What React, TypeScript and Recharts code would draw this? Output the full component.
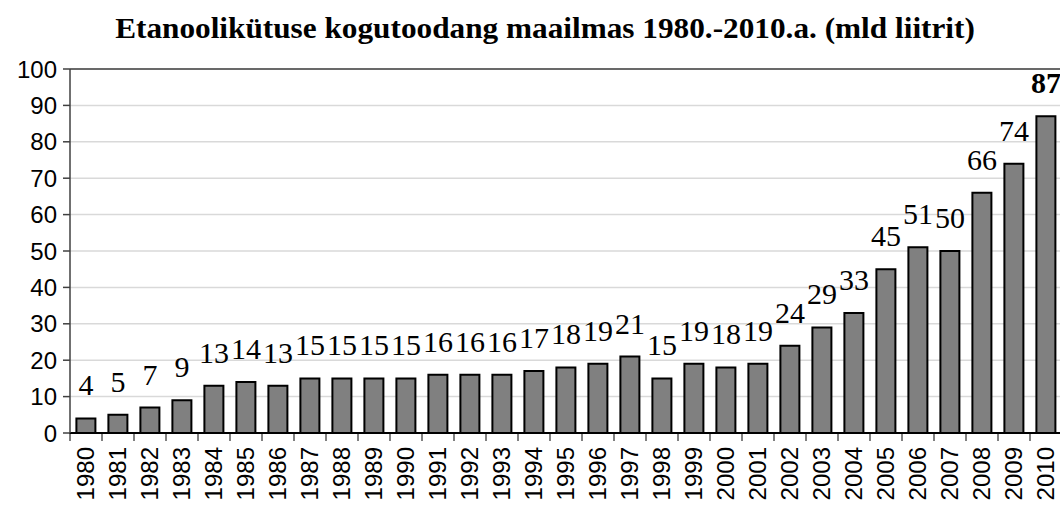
import React from "react";
import { BarChart, Bar, XAxis, YAxis, CartesianGrid, LabelList, ReferenceLine } from "recharts";

const years = ["1980","1981","1982","1983","1984","1985","1986","1987","1988","1989","1990","1991","1992","1993","1994","1995","1996","1997","1998","1999","2000","2001","2002","2003","2004","2005","2006","2007","2008","2009","2010"];
const production = [4,5,7,9,13,14,13,15,15,15,15,16,16,16,17,18,19,21,15,19,18,19,24,29,33,45,51,50,66,74,87];
const yTicks = [0,10,20,30,40,50,60,70,80,90,100];
const title = "Etanoolikütuse kogutoodang maailmas 1980.-2010.a. (mld liitrit)";

const data = years.map((y, i) => ({ year: y, value: production[i] }));

const CHART_W = 1070;
const CHART_H = 507;
const M_LEFT = 0;
const Y_W = 70;
const M_RIGHT = 8;
const PLOT_W = CHART_W - M_LEFT - Y_W - M_RIGHT;
const HALF_BAND = PLOT_W / data.length / 2;

const XTick = (props: any) => {
  const { x, y, payload } = props;
  return (
    <g>
      <line x1={x - HALF_BAND} x2={x - HALF_BAND} y1={y} y2={y + 8} stroke="#000" strokeWidth={1} />
      <text
        x={0}
        y={0}
        transform={`translate(${x + 8}, ${y + 14}) rotate(-90)`}
        textAnchor="end"
        fontFamily="'Liberation Sans', Arial, sans-serif"
        fontSize={24}
        fill="#000"
      >
        {payload.value}
      </text>
    </g>
  );
};

const ValueLabel = (props: any) => {
  const { x, y, width, value, index } = props;
  const last = index === data.length - 1;
  return (
    <text
      x={x + width / 2}
      y={y - 23}
      textAnchor="middle"
      fontFamily="'Liberation Serif', 'Times New Roman', serif"
      fontSize={30}
      fontWeight={last ? "bold" : "normal"}
      fill="#000"
    >
      {value}
    </text>
  );
};

export default function App() {
  return (
    <div style={{ position: "absolute", left: 0, top: 0, width: 1060, height: 507, overflow: "hidden", background: "#fff" }}>
      <div
        style={{
          position: "absolute",
          left: 0,
          top: 10,
          width: 1090,
          textAlign: "center",
          fontFamily: "'Liberation Serif', 'Times New Roman', serif",
          fontWeight: "bold",
          fontSize: 30,
          lineHeight: "36px",
          color: "#000",
          whiteSpace: "nowrap",
          transform: "scaleX(1.042)",
          transformOrigin: "545px 0",
        }}
      >
        {title}
      </div>
      <BarChart
        width={CHART_W}
        height={CHART_H}
        data={data}
        margin={{ top: 69, right: M_RIGHT, bottom: 0, left: M_LEFT }}
        barCategoryGap="20%"
      >
        <CartesianGrid vertical={false} stroke="#d9d9d9" strokeWidth={1.5} />
        <ReferenceLine y={100} stroke="#404040" strokeWidth={1.5} />
        <XAxis
          dataKey="year"
          interval={0}
          height={74}
          tickSize={0}
          tickMargin={0}
          tickLine={false}
          axisLine={{ stroke: "#000", strokeWidth: 2 }}
          tick={<XTick />}
        />
        <YAxis
          width={Y_W}
          domain={[0, 100]}
          ticks={yTicks}
          interval={0}
          tickSize={7}
          tickMargin={6}
          axisLine={{ stroke: "#404040", strokeWidth: 1.5 }}
          tickLine={{ stroke: "#404040", strokeWidth: 1.5 }}
          tick={{ fill: "#000", fontSize: 24, fontFamily: "'Liberation Sans', Arial, sans-serif" }}
        />
        <Bar dataKey="value" fill="#808080" stroke="#000" strokeWidth={2} isAnimationActive={false}>
          <LabelList dataKey="value" content={<ValueLabel />} />
        </Bar>
      </BarChart>
    </div>
  );
}
